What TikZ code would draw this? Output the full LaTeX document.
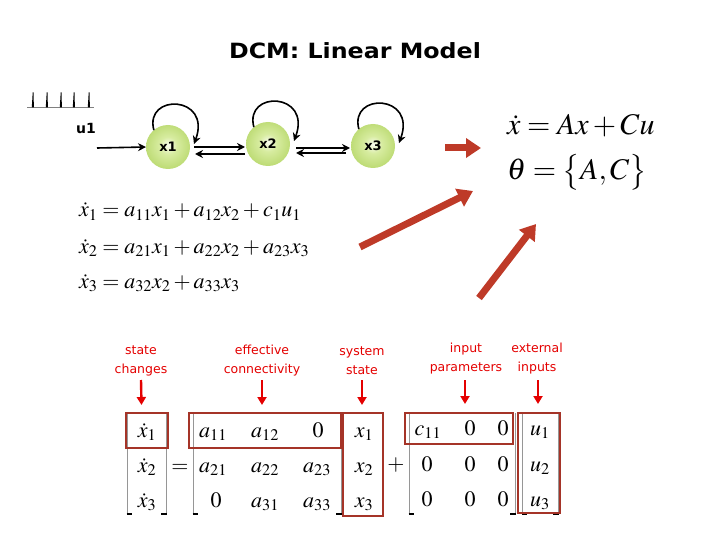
\documentclass[tikz,border=0pt]{standalone}
\usepackage{mathptmx}
\usepackage{fontspec}
\usetikzlibrary{arrows.meta,calc}
\newfontfamily\lab{DejaVu Sans}
\definecolor{fatred}{RGB}{190,58,40}
\definecolor{boxred}{RGB}{165,52,40}
\definecolor{lred}{RGB}{228,0,0}
\definecolor{ctrg}{RGB}{215,236,160}
\definecolor{edgeg}{RGB}{140,190,25}
\definecolor{brgray}{RGB}{150,150,150}
\pgfdeclareradialshading{ballg}{\pgfpoint{0bp}{2bp}}{color(0bp)=(white!85!ctrg); color(10bp)=(ctrg); color(38bp)=(edgeg!75!white); color(46bp)=(edgeg); color(50bp)=(edgeg!90!black)}
\begin{document}
\begin{tikzpicture}[x=1pt,y=-1pt,
  every node/.style={inner sep=0pt, outer sep=0pt},
  blk/.style={line width=1.6pt, -{Stealth[length=8pt,width=8pt]}},
  fat/.style={draw=fatred, line width=7pt, -{Triangle[length=15pt,width=19pt]}},
  smallred/.style={draw=lred, line width=2.4pt, -{Triangle[length=8pt,width=9pt]}},
  hbox/.style={draw=boxred, line width=2.6pt},
  brk/.style={draw=brgray, line width=0.9pt},
  statenode/.style={circle, minimum size=44pt, shading=ballg, font=\lab\bfseries\fontsize{13}{13}\selectfont},
  redlab/.style={text=lred, align=center, font=\lab\fontsize{12.5}{19}\selectfont},
  eqm/.style={anchor=base, font=\fontsize{22}{24}\selectfont},
  eqmid/.style={anchor=base west, font=\fontsize{22}{26}\selectfont},
  eqr/.style={anchor=base west, font=\fontsize{30}{32}\selectfont},
]
\useasboundingbox (0,0) rectangle (720,540);
% title
\node (title) at (355,51) {\lab\bfseries\fontsize{21}{24}\selectfont\scalebox{1.13}[1]{DCM: Linear Model}};
% input spikes
\draw[line width=0.6pt, gray] (27,107.5) -- (94,107.5);
\foreach \sx in {33,47,61,74,89} \fill (\sx-1.2,107.5) -- (\sx+0.9,107.5) -- (\sx+0.5,92.5) -- (\sx-0.3,92.5) -- cycle;
\node (u1) at (86,128) {\lab\bfseries\fontsize{14}{14}\selectfont u1};
% states
\node[statenode] (x1) at (168,147) {x1};
\node[statenode] (x2) at (268,144) {x2};
\node[statenode] (x3) at (373,146) {x3};
\coordinate (uin) at (97,148);
\draw[blk] (uin) -- (x1.west);
% self loops
\foreach \n in {x1,x2,x3}
  \draw[blk] (\n.130) .. controls ($(\n)+(-24,-54)$) and ($(\n)+(44,-52)$) .. ($(\n.east)+(4,-3)$);
% reciprocal connections
\draw[blk] ($(x1.east)+(4,0)$) -- ($(x2.west)+(-1,3)$);
\draw[blk] ($(x2.west)+(-1,10)$) -- ($(x1.east)+(5,7)$);
\draw[blk] ($(x2.east)+(6,4)$) -- ($(x3.west)+(-1,2)$);
\draw[blk] ($(x3.west)+(-5,7)$) -- ($(x2.east)+(6,9)$);
% big red arrows
\coordinate (ra1) at (445,148); \coordinate (ra2) at (481,148);
\coordinate (rb1) at (360,247); \coordinate (rb2) at (473,191);
\coordinate (rc1) at (479,298); \coordinate (rc2) at (536,224);
\draw[fat] (ra1) -- (ra2);
\draw[fat] (rb1) -- (rb2);
\draw[fat] (rc1) -- (rc2);
% right equations
\node[eqr] (eqa) at (507,135) {$\dot{x} = Ax + Cu$};
\node[eqr] (eqb) at (507,180) {$\theta = \bigl\{A, C\bigr\}$};
% middle equations
\node[eqmid] (e1) at (79,217) {$\dot{x}_1 = a_{11}x_1 + a_{12}x_2 + c_1u_1$};
\node[eqmid] (e2) at (79,253) {$\dot{x}_2 = a_{21}x_1 + a_{22}x_2 + a_{23}x_3$};
\node[eqmid] (e3) at (79,288) {$\dot{x}_3 = a_{32}x_2 + a_{33}x_3$};
% red labels
\node[redlab] (l1) at (141,361) {state\\changes};
\node[redlab] (l2) at (262,361) {effective\\connectivity};
\node[redlab] (l3) at (362,361) {system\\state};
\node[redlab] (l4) at (466,359) {input\\parameters};
\node[redlab] (l5) at (537,359) {external\\inputs};
\coordinate (t1) at (141.5,405); \coordinate (t2) at (262,405); \coordinate (t3) at (362,405);
\coordinate (t4) at (465,404); \coordinate (t5) at (538,404);
\draw[smallred] (l1.south |- 0,380) -- (t1);
\draw[smallred] (l2.south |- 0,380) -- (t2);
\draw[smallred] (l3.south |- 0,380) -- (t3);
\draw[smallred] (t4 |- 0,380) -- (t4);
\draw[smallred] (t5 |- 0,380) -- (t5);
% brackets
\foreach \la/\ra in {127/166, 193/341, 409/515, 522/558} {
  \draw[brk] (\la,413) -- (\la,514);
  \draw[brk] (\ra,413) -- (\ra,514);
  \draw[line width=1.3pt] (\la-0.5,514) -- (\la+5,514);
  \draw[line width=1.3pt] (\ra+0.5,514) -- (\ra-5,514);
}
% matrix entries
\node[eqm] (d1) at (147,437) {$\dot{x}_1$};
\node[eqm] (d2) at (147,472) {$\dot{x}_2$};
\node[eqm] (d3) at (147,507) {$\dot{x}_3$};
\node[eqm] (eq) at (180,472) {$=$};
\node[eqm] (a11) at (213,437) {$a_{11}$};
\node[eqm] (a12) at (265,437) {$a_{12}$};
\node[eqm] (a13) at (318,437) {$0$};
\node[eqm] (a21) at (213,472) {$a_{21}$};
\node[eqm] (a22) at (265,472) {$a_{22}$};
\node[eqm] (a23) at (317,472) {$a_{23}$};
\node[eqm] (a31) at (216,507) {$0$};
\node[eqm] (a32) at (265,507) {$a_{31}$};
\node[eqm] (a33) at (317,507) {$a_{33}$};
\node[eqm] (v1) at (364,437) {$x_1$};
\node[eqm] (v2) at (364,472) {$x_2$};
\node[eqm] (v3) at (364,507) {$x_3$};
\node[eqm] (pl) at (396,470) {$+$};
\node[eqm] (c11) at (428,435) {$c_{11}$};
\node[eqm] (c12) at (470,435) {$0$};
\node[eqm] (c13) at (503,435) {$0$};
\node[eqm] (c21) at (427,471) {$0$};
\node[eqm] (c22) at (470,471) {$0$};
\node[eqm] (c23) at (503,471) {$0$};
\node[eqm] (c31) at (427,506) {$0$};
\node[eqm] (c32) at (470,506) {$0$};
\node[eqm] (c33) at (503,506) {$0$};
\node[eqm] (w1) at (540,435) {$u_1$};
\node[eqm] (w2) at (540,471) {$u_2$};
\node[eqm] (w3) at (540,506) {$u_3$};
% highlight boxes
\draw[hbox] (126,413) rectangle (168,448);
\draw[hbox] (189,413) rectangle (341,448);
\draw[hbox] (343,413) rectangle (383,516);
\draw[hbox] (405,413) rectangle (513,444);
\draw[hbox] (518,413) rectangle (560,513);
\end{tikzpicture}
\end{document}
